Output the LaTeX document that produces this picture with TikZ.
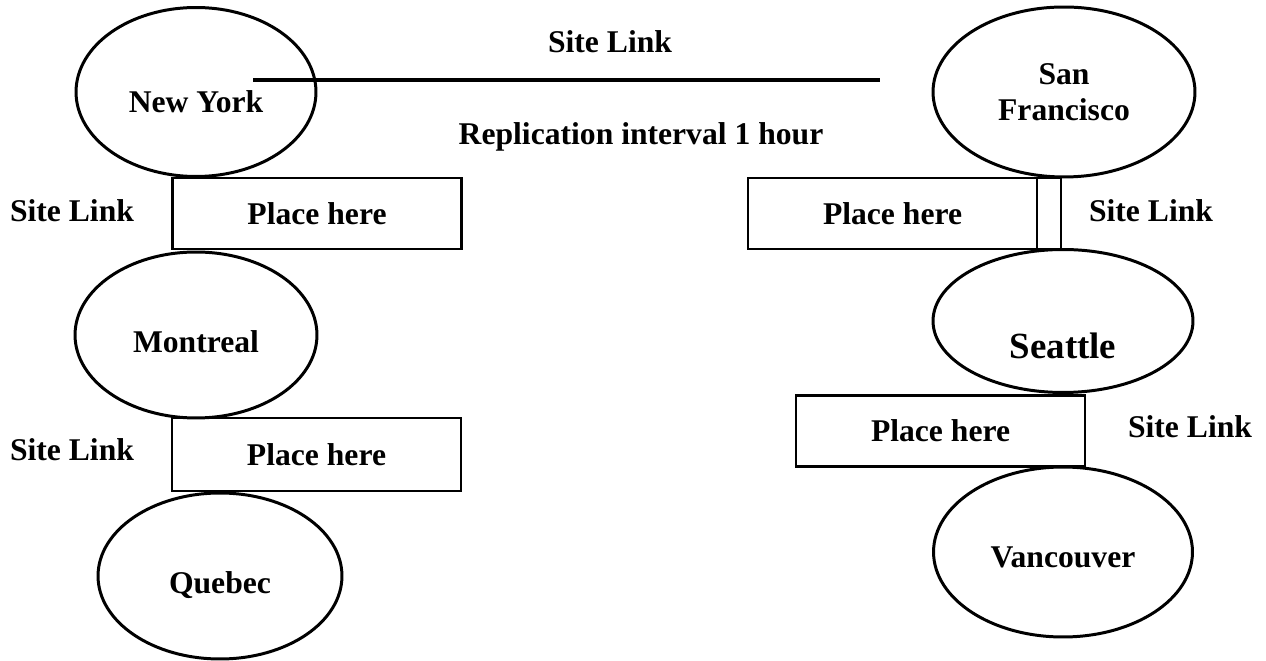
\documentclass[tikz,border=0pt]{standalone}
\usepackage{fontspec}
\setmainfont{Liberation Serif}
\usepackage{tikz}
\usetikzlibrary{shapes.geometric, positioning}

\begin{document}
\begin{tikzpicture}[x=0.02cm, y=-0.02cm, font=\fontsize{18}{20}\selectfont\bfseries,
    site/.style = {draw, ellipse, line width=1.7pt, inner sep=0pt, text depth=0pt, align=center},
    block/.style = {draw, rectangle, line width=1.6pt, inner sep=0pt, minimum width=5.78cm, minimum height=1.42cm, text depth=0pt},
    tag/.style = {inner sep=0pt}]
    \useasboundingbox (0,0) rectangle (1266,661);

    % East coast sites
    \node [site, minimum width=4.8cm, minimum height=3.38cm, text height=23pt] (newyork) at (196,92) {New York};
    \node [site, minimum width=4.84cm, minimum height=3.32cm, text height=20pt] (montreal) at (196,335) {Montreal};
    \node [site, minimum width=4.88cm, minimum height=3.32cm, text height=20pt] (quebec) at (220,576) {Quebec};

    \node [block] (placeNY) at (317,213.5) {Place here};
    \node [block, minimum height=1.46cm] (placeMQ) at (316.5,454.5) {Place here};
    \node [tag] (linkNY) at (72,211) {Site Link};
    \node [tag] (linkMQ) at (72,450) {Site Link};

    % West coast sites
    \node [site, minimum width=5.24cm, minimum height=3.4cm] (sanfran) at (1064,92) {San\\Francisco};
    \node [site, minimum width=5.2cm, minimum height=2.86cm, text height=43pt, font=\fontsize{21}{24}\selectfont\bfseries] (seattle) at (1063,321) {Seattle};
    \node [site, minimum width=5.18cm, minimum height=3.4cm, text height=18pt] (vancouver) at (1063,552) {Vancouver};

    \node [block] (placeSF) at (892.5,213.5) {Place here};
    \node [block, minimum width=0.48cm] (gapSF) at (1049,213.5) {};
    \node [block] (placeSV) at (940.5,431) {Place here};
    \node [tag] (linkSF) at (1151,211) {Site Link};
    \node [tag] (linkSV) at (1190,427) {Site Link};

    % Link between the coasts
    \coordinate (linkA) at (253,80);
    \coordinate (linkB) at (880,80);
    \draw [line width=2.8pt] (linkA) -- (linkB);
    \node [tag] (linkTop) at (610,42) {Site Link};
    \node [tag] (interval) at (641,137) {Replication interval 1 hour};
\end{tikzpicture}
\end{document}
